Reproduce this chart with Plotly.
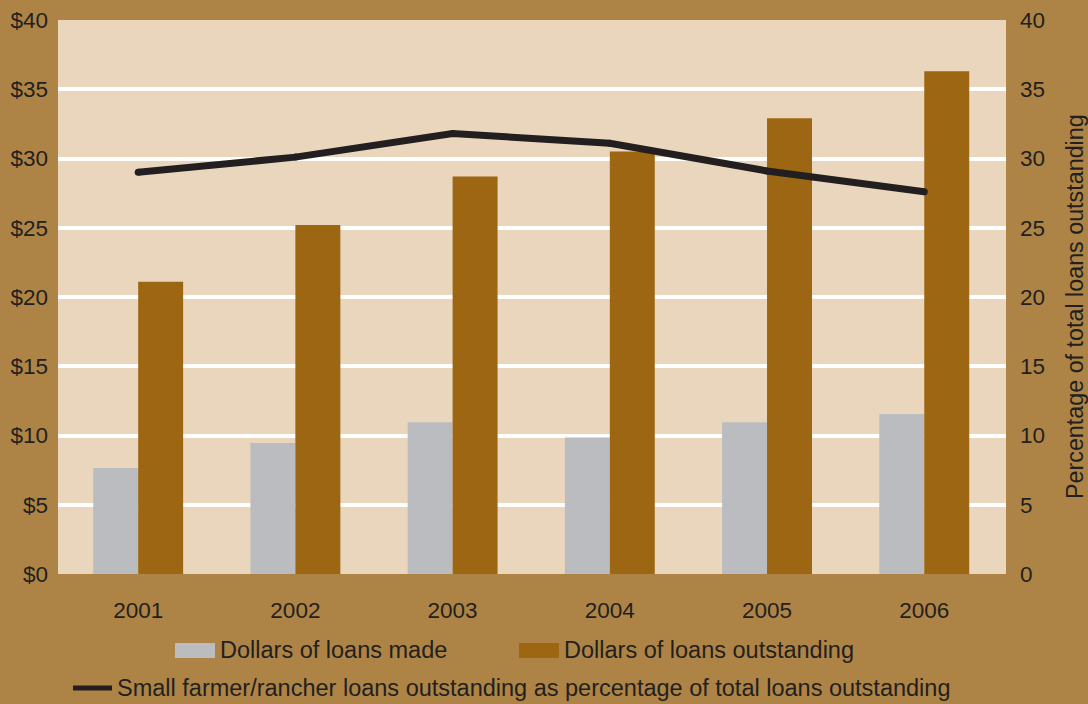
import plotly.graph_objects as go

# Loan data by year (dollar values in billions, share in percent)
years = ["2001", "2002", "2003", "2004", "2005", "2006"]
loans_made = [7.65, 9.45, 10.95, 9.85, 10.95, 11.55]
loans_outstanding = [21.1, 25.2, 28.7, 30.5, 32.9, 36.3]
pct_of_total = [29.0, 30.1, 31.8, 31.1, 29.1, 27.6]

left_ticks = [0, 5, 10, 15, 20, 25, 30, 35, 40]
left_tick_text = ["$0", "$5", "$10", "$15", "$20", "$25", "$30", "$35", "$40"]
right_ticks = [0, 5, 10, 15, 20, 25, 30, 35, 40]

legend_made = "Dollars of loans made"
legend_outstanding = "Dollars of loans outstanding"
legend_pct = "Small farmer/rancher loans outstanding as percentage of total loans outstanding"
right_title = "Percentage of total loans outstanding"

GRAY = "#BBBCC0"
BROWN = "#9C6613"
INK = "#231F20"
PAPER = "#AD8445"
PLOT_BG = "#E9D6BD"
FONT = "Liberation Sans, Arial, sans-serif"

W, H = 1088, 704
ML, MR, MT, MB = 58, 82, 20, 130
PW, PH = W - ML - MR, H - MT - MB


def px(x):
    return (x - ML) / PW


def py(y):
    return (H - MB - y) / PH


x_idx = list(range(len(years)))

fig = go.Figure()
fig.add_trace(go.Bar(x=x_idx, y=loans_made, marker=dict(color=GRAY, line=dict(width=0)),
                     name=legend_made, showlegend=False))
fig.add_trace(go.Bar(x=x_idx, y=loans_outstanding, marker=dict(color=BROWN, line=dict(width=0)),
                     name=legend_outstanding, showlegend=False))
fig.add_trace(go.Scatter(x=x_idx, y=pct_of_total, yaxis="y2", mode="lines+markers",
                         line=dict(color=INK, width=7),
                         marker=dict(color=INK, size=7, line=dict(width=0)),
                         name=legend_pct, showlegend=False))

# Hand-built legend with wide swatches
LEG_SIZE = 23.5
shapes = [
    dict(type="rect", xref="paper", yref="paper", x0=px(175), x1=px(215), y0=py(658), y1=py(643),
         fillcolor=GRAY, line=dict(width=0)),
    dict(type="rect", xref="paper", yref="paper", x0=px(519), x1=px(559), y0=py(658), y1=py(643),
         fillcolor=BROWN, line=dict(width=0)),
    dict(type="line", xref="paper", yref="paper", x0=px(73), x1=px(112), y0=py(688), y1=py(688),
         line=dict(color=INK, width=5)),
]
annotations = [
    dict(text=legend_made, xref="paper", yref="paper", x=px(218), y=py(650),
         xanchor="left", yanchor="middle", showarrow=False,
         font=dict(family=FONT, size=LEG_SIZE, color=INK)),
    dict(text=legend_outstanding, xref="paper", yref="paper", x=px(562), y=py(650),
         xanchor="left", yanchor="middle", showarrow=False,
         font=dict(family=FONT, size=LEG_SIZE, color=INK)),
    dict(text=legend_pct, xref="paper", yref="paper", x=px(115), y=py(688),
         xanchor="left", yanchor="middle", showarrow=False,
         font=dict(family=FONT, size=LEG_SIZE, color=INK)),
    # Right-axis title
    dict(text=right_title, xref="paper", yref="paper", x=px(1075), y=py(307),
         xanchor="center", yanchor="middle", textangle=-90, showarrow=False,
         font=dict(family=FONT, size=23.3, color=INK)),
]

fig.update_layout(
    width=W, height=H,
    margin=dict(l=ML, r=MR, t=MT, b=MB, pad=0, autoexpand=False),
    paper_bgcolor=PAPER, plot_bgcolor=PLOT_BG,
    barmode="group", bargap=0.428, bargroupgap=0,
    font=dict(family=FONT, size=22.5, color=INK),
    shapes=shapes, annotations=annotations,
    xaxis=dict(range=[-0.51, 5.52], tickmode="array", tickvals=x_idx, ticktext=years,
               showgrid=False, zeroline=False, showline=False, ticks="", automargin=False,
               ticklabelstandoff=20, fixedrange=True),
    yaxis=dict(range=[0, 40], tickmode="array", tickvals=left_ticks, ticktext=left_tick_text,
               showgrid=True, gridcolor="white", gridwidth=4, zeroline=False, showline=False,
               ticks="", ticklabelstandoff=9, automargin=False, fixedrange=True),
    yaxis2=dict(range=[0, 40], overlaying="y", side="right", tickmode="array",
                tickvals=right_ticks, showgrid=False, zeroline=False, showline=False,
                ticks="", ticklabelstandoff=13, automargin=False, fixedrange=True),
    showlegend=False,
)

fig.write_html("out.html")
